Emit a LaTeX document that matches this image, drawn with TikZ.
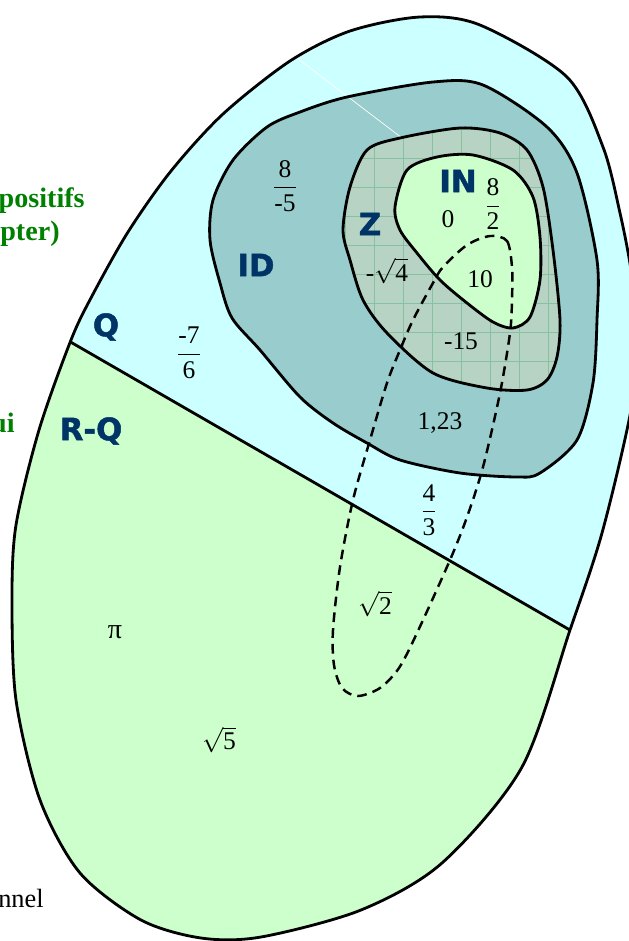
\documentclass[tikz,border=0pt]{standalone}
\usepackage{amsmath}
\usepackage{fontspec}
\setmainfont{Liberation Serif}
\newfontfamily\labfamily[FakeBold=1.6]{DejaVu Sans Bold}
\usepackage{tikz}

\definecolor{qcyan}{HTML}{CCFFFF}
\definecolor{idteal}{HTML}{99CCCC}
\definecolor{zgrey}{HTML}{B6D3C4}
\definecolor{zgrid}{HTML}{86C2A2}
\definecolor{ingreen}{HTML}{CCFFCC}
\definecolor{setnavy}{HTML}{003366}
\definecolor{notegreen}{HTML}{008000}

\newcommand{\numfont}{\fontsize{14.5}{17}\selectfont}
\newcommand{\setfont}{\labfamily\fontsize{17.5}{20}\selectfont}
\newcommand{\notefont}{\bfseries\fontsize{16}{19}\selectfont}
\newcommand{\fr}[2]{$\displaystyle\frac{\mbox{#1}}{\mbox{#2}}$}

% set outlines, pixel coordinates with y going down
\newcommand{\rpath}{plot[smooth cycle] coordinates {(420,17) (480,25) (567,77) (603,147) (620,213) (631,270) (638,335) (631,410) (602,533) (570,630) (522,767) (442,863) (361,910) (261,937) (201,938) (141,920) (80,873) (40,800) (16,700) (12,600) (16,525) (39,430) (71,340) (92,296) (128,232) (171,171) (223,114) (290,61) (350,31)}}
\newcommand{\idpath}{plot[smooth cycle] coordinates {(300,112) (347,97) (433,82) (483,85) (547,127) (577,173) (597,260) (597,320) (593,383) (577,440) (540,473) (517,477) (460,473) (400,460) (367,443) (333,423) (300,397) (260,350) (232,318) (220,283) (210,240) (213,200) (233,160) (267,127)}}
\newcommand{\zpath}{plot[smooth cycle] coordinates {(400,138) (460,128) (500,133) (527,150) (543,187) (553,250) (560,320) (557,357) (547,380) (527,390) (487,388) (433,373) (387,333) (363,300) (350,260) (343,230) (350,187) (367,150)}}
\newcommand{\inpath}{plot[smooth cycle] coordinates {(437,157) (473,155) (513,170) (533,197) (540,237) (540,280) (530,317) (513,328) (493,322) (467,303) (440,280) (417,253) (400,230) (395,207) (407,170)}}

\begin{document}
\begin{tikzpicture}[x=0.02cm, y=-0.02cm,
  every node/.style={font=\numfont, inner sep=0pt},
  setline/.style={line width=1.6pt, line join=round},
  dashline/.style={line width=1.4pt, dash pattern=on 5.5pt off 3.5pt},
  setlabel/.style={font=\setfont, text=setnavy},
  notelabel/.style={font=\notefont, text=notegreen, anchor=base east}]
  \useasboundingbox (0,0) rectangle (629,941);
  \begin{scope}
  \clip (0,0) rectangle (629,941);

  % R = Q + (R-Q)
  \fill[qcyan] \rpath;
  \begin{scope}
    \clip \rpath;
    \fill[ingreen] (-50,272.5) -- (700,705) -- (700,1000) -- (-50,1000) -- cycle;
    \draw[setline] (-50,272.5) -- (700,705);
  \end{scope}

  % ID
  \fill[idteal] \idpath;
  \draw[white, line width=0.4pt] (297,58) -- (402,138);
  \draw[setline] \idpath;

  % Z, graph paper look
  \begin{scope}
    \clip \zpath;
    \fill[zgrey] (330,110) rectangle (580,410);
    \foreach \gx in {345,374,...,580}
      \draw[zgrid, line width=0.5pt] (\gx,110) -- (\gx,410);
    \foreach \gy in {129,158,...,410}
      \draw[zgrid, line width=0.5pt] (330,\gy) -- (580,\gy);
  \end{scope}
  \draw[setline] \zpath;

  % IN
  \fill[ingreen] \inpath;
  \draw[setline] \inpath;

  % dashed loop
  \draw[dashline] plot[smooth cycle] coordinates {(490,236) (507,241) (512,267) (512,300) (510,333) (500,393) (483,467) (467,517) (450,560) (417,633) (399,668) (380,688) (358,696) (342,688) (334,665) (333,630) (340,567) (353,500) (370,440) (387,383) (400,350) (413,320) (433,283) (443,267) (467,245)};

  \draw[setline] \rpath;

  % set names
  \node[setlabel] (lin) at (458,181) {IN};
  \node[setlabel] (lz) at (370,224) {Z};
  \node[setlabel] (lid) at (256,265) {ID};
  \node[setlabel] (lq) at (106,327) {Q};
  \node[setlabel] (lrq) at (91,431) {R-Q};

  % elements
  \node (eighthalf) at (493,204) {\fr{8}{2}};
  \node (zero) at (448,219) {0};
  \node (ten) at (480,279) {10};
  \node (msqfour) at (387,271) {-$\sqrt{\mbox{4}}$};
  \node (mfifteen) at (461,341) {-15};
  \node (onetwothree) at (440,423) {1,23};
  \node (eightmfive) at (285,186) {\fr{8}{-5}};
  \node (msevensix) at (189,353) {\fr{-7}{6}};
  \node (fourthird) at (429,510) {\fr{4}{3}};
  \node (sqtwo) at (375,604) {$\sqrt{\mbox{2}}$};
  \node[font=\fontsize{16}{18}\selectfont] (pi) at (115,632) {π};
  \node (sqfive) at (219,740) {$\sqrt{\mbox{5}}$};

  % cut-off side texts
  \node[notelabel] (npos) at (85,207) {positifs};
  \node[notelabel] (nopt) at (60,240) {pter)};
  \node[notelabel] (nui) at (15,432) {ui};
  \node[font=\fontsize{15}{18}\selectfont, anchor=base east] (nnel) at (44,907) {nnel};
  \end{scope}
\end{tikzpicture}
\end{document}
